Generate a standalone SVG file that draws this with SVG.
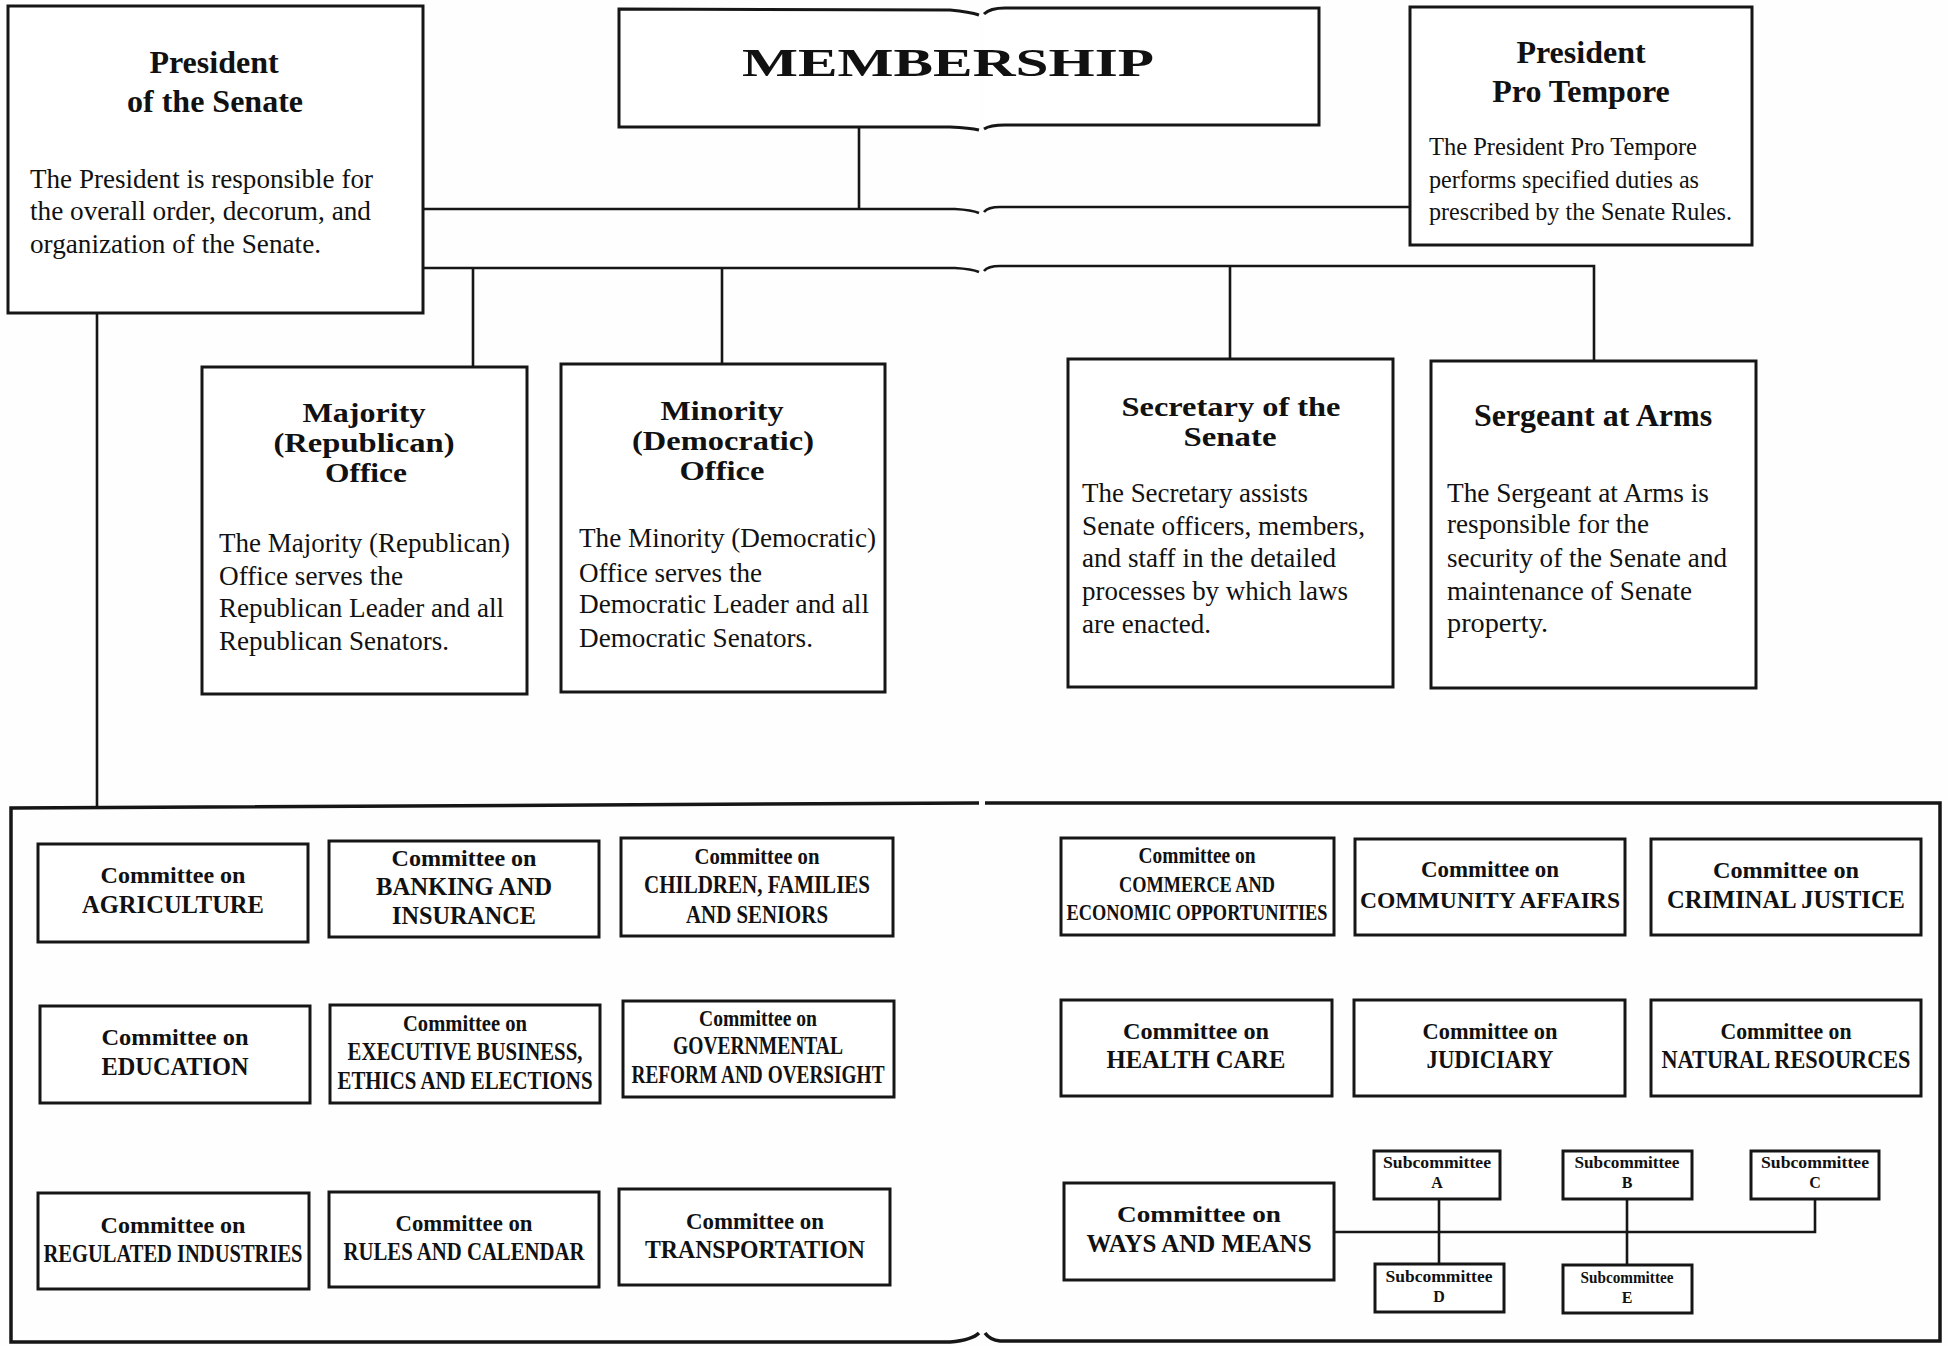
<svg xmlns="http://www.w3.org/2000/svg" width="1948" height="1346" viewBox="0 0 1948 1346">
<style>
.box{fill:#fff;stroke:#161616;stroke-width:3}
.ln{fill:none;stroke:#161616;stroke-width:2.6}
text{font-family:"Liberation Serif","Times New Roman",serif;fill:#111}
.ttl{font-size:32px;font-weight:bold;text-anchor:middle}
.ttl2{font-size:27px;font-weight:bold;text-anchor:middle}
.body{font-size:27px}
.body25{font-size:25px}
.cm{font-size:23px;font-weight:bold;text-anchor:middle}
.cap{font-size:25px;font-weight:bold;text-anchor:middle}
.cap2{font-size:23px;font-weight:bold;text-anchor:middle}
.sub{font-size:16px;font-weight:bold;text-anchor:middle}
</style>
<rect width="1948" height="1346" fill="#fefefe"/>

<g id="connectors">
  <path class="ln" d="M423,209 L955,209 Q972,210 979,213 M984,212 Q988,207 1000,207 L1410,207"/>
  <path class="ln" d="M859,127 L859,209"/>
  <path class="ln" d="M423,268 L955,268 Q972,269 979,272 M984,271 Q988,266 1000,266 L1594,266 L1594,361"/>
  <path class="ln" d="M473,268 L473,367"/>
  <path class="ln" d="M722,268 L722,364"/>
  <path class="ln" d="M1230,266 L1230,359"/>
  <path class="ln" d="M97,313 L97,808"/>
  <path class="ln" d="M1334,1232 L1815,1232 L1815,1199"/>
  <path class="ln" d="M1439,1199 L1439,1264"/>
  <path class="ln" d="M1627,1199 L1627,1265"/>
</g>

<g id="president-of-senate">
  <rect class="box" x="8" y="6" width="415" height="307"/>
  <text class="ttl" x="214" y="73">President</text>
  <text class="ttl" x="215" y="112">of the Senate</text>
  <text class="body" x="30" y="188" textLength="343" lengthAdjust="spacingAndGlyphs">The President is responsible for</text>
  <text class="body" x="30" y="220" textLength="341" lengthAdjust="spacingAndGlyphs">the overall order, decorum, and</text>
  <text class="body" x="30" y="253" textLength="291" lengthAdjust="spacingAndGlyphs">organization of the Senate.</text>
</g>

<g id="membership">
  <path class="box" d="M979,15 Q970,12 950,10 L619,9 L619,127 L950,127 Q970,128 979,130"/>
  <path class="box" d="M984,129 Q990,125 1005,125 L1319,125 L1319,8 L1005,8 Q990,8 984,14"/>
  <text x="742" y="76" font-size="39" font-weight="bold" textLength="412" lengthAdjust="spacingAndGlyphs">MEMBERSHIP</text>
</g>

<g id="president-pro-tempore">
  <rect class="box" x="1410" y="7" width="342" height="238"/>
  <text class="ttl" x="1581" y="63">President</text>
  <text class="ttl" x="1581" y="102">Pro Tempore</text>
  <text class="body25" x="1429" y="155" textLength="268" lengthAdjust="spacingAndGlyphs">The President Pro Tempore</text>
  <text class="body25" x="1429" y="188" textLength="270" lengthAdjust="spacingAndGlyphs">performs specified duties as</text>
  <text class="body25" x="1429" y="220" textLength="303" lengthAdjust="spacingAndGlyphs">prescribed by the Senate Rules.</text>
</g>

<g id="majority-office">
  <rect class="box" x="202" y="367" width="325" height="327"/>
  <text class="ttl2" x="364" y="422" textLength="123" lengthAdjust="spacingAndGlyphs">Majority</text>
  <text class="ttl2" x="364" y="452" textLength="181" lengthAdjust="spacingAndGlyphs">(Republican)</text>
  <text class="ttl2" x="366" y="482" textLength="82" lengthAdjust="spacingAndGlyphs">Office</text>
  <text class="body" x="219" y="552" textLength="291" lengthAdjust="spacingAndGlyphs">The Majority (Republican)</text>
  <text class="body" x="219" y="585" textLength="184" lengthAdjust="spacingAndGlyphs">Office serves the</text>
  <text class="body" x="219" y="617" textLength="285" lengthAdjust="spacingAndGlyphs">Republican Leader and all</text>
  <text class="body" x="219" y="650" textLength="230" lengthAdjust="spacingAndGlyphs">Republican Senators.</text>
</g>

<g id="minority-office">
  <rect class="box" x="561" y="364" width="324" height="328"/>
  <text class="ttl2" x="722" y="420" textLength="123" lengthAdjust="spacingAndGlyphs">Minority</text>
  <text class="ttl2" x="723" y="450" textLength="182" lengthAdjust="spacingAndGlyphs">(Democratic)</text>
  <text class="ttl2" x="722" y="480" textLength="85" lengthAdjust="spacingAndGlyphs">Office</text>
  <text class="body" x="579" y="547" textLength="297" lengthAdjust="spacingAndGlyphs">The Minority (Democratic)</text>
  <text class="body" x="579" y="582" textLength="183" lengthAdjust="spacingAndGlyphs">Office serves the</text>
  <text class="body" x="579" y="613" textLength="290" lengthAdjust="spacingAndGlyphs">Democratic Leader and all</text>
  <text class="body" x="579" y="647" textLength="234" lengthAdjust="spacingAndGlyphs">Democratic Senators.</text>
</g>

<g id="secretary-of-senate">
  <rect class="box" x="1068" y="359" width="325" height="328"/>
  <text class="ttl2" x="1231" y="416" textLength="219" lengthAdjust="spacingAndGlyphs">Secretary of the</text>
  <text class="ttl2" x="1230" y="446" textLength="93" lengthAdjust="spacingAndGlyphs">Senate</text>
  <text class="body" x="1082" y="502" textLength="226" lengthAdjust="spacingAndGlyphs">The Secretary assists</text>
  <text class="body" x="1082" y="535" textLength="283" lengthAdjust="spacingAndGlyphs">Senate officers, members,</text>
  <text class="body" x="1082" y="567" textLength="254" lengthAdjust="spacingAndGlyphs">and staff in the detailed</text>
  <text class="body" x="1082" y="600" textLength="266" lengthAdjust="spacingAndGlyphs">processes by which laws</text>
  <text class="body" x="1082" y="633" textLength="129" lengthAdjust="spacingAndGlyphs">are enacted.</text>
</g>

<g id="sergeant-at-arms">
  <rect class="box" x="1431" y="361" width="325" height="327"/>
  <text class="ttl" x="1593" y="426">Sergeant at Arms</text>
  <text class="body" x="1447" y="502" textLength="262" lengthAdjust="spacingAndGlyphs">The Sergeant at Arms is</text>
  <text class="body" x="1447" y="533" textLength="202" lengthAdjust="spacingAndGlyphs">responsible for the</text>
  <text class="body" x="1447" y="567" textLength="280" lengthAdjust="spacingAndGlyphs">security of the Senate and</text>
  <text class="body" x="1447" y="600" textLength="245" lengthAdjust="spacingAndGlyphs">maintenance of Senate</text>
  <text class="body" x="1447" y="632" textLength="101" lengthAdjust="spacingAndGlyphs">property.</text>
</g>

<g id="committees-frame">
  <path class="box" style="fill:none;stroke-width:3.5" d="M979,1333 Q972,1340 950,1342 L11,1342 L11,808 L979,803 M985,803 L1940,803 L1940,1341 L1000,1341 Q990,1340 985,1333"/>
</g>

<g id="c-agriculture">
  <rect class="box" x="38" y="844" width="270" height="98"/>
  <text class="cm" x="173" y="883" textLength="145" lengthAdjust="spacingAndGlyphs">Committee on</text>
  <text class="cap" x="173" y="913" textLength="182" lengthAdjust="spacingAndGlyphs">AGRICULTURE</text>
</g>
<g id="c-banking">
  <rect class="box" x="329" y="841" width="270" height="96"/>
  <text class="cm" x="464" y="866" textLength="145" lengthAdjust="spacingAndGlyphs">Committee on</text>
  <text class="cap" x="464" y="895" textLength="176" lengthAdjust="spacingAndGlyphs">BANKING AND</text>
  <text class="cap" x="464" y="924" textLength="144" lengthAdjust="spacingAndGlyphs">INSURANCE</text>
</g>
<g id="c-children">
  <rect class="box" x="621" y="838" width="272" height="98"/>
  <text class="cm" x="757" y="864" textLength="125" lengthAdjust="spacingAndGlyphs">Committee on</text>
  <text class="cap" x="757" y="893" textLength="226" lengthAdjust="spacingAndGlyphs">CHILDREN, FAMILIES</text>
  <text class="cap" x="757" y="923" textLength="142" lengthAdjust="spacingAndGlyphs">AND SENIORS</text>
</g>
<g id="c-education">
  <rect class="box" x="40" y="1006" width="270" height="97"/>
  <text class="cm" x="175" y="1045" textLength="147" lengthAdjust="spacingAndGlyphs">Committee on</text>
  <text class="cap" x="175" y="1075" textLength="147" lengthAdjust="spacingAndGlyphs">EDUCATION</text>
</g>
<g id="c-executive">
  <rect class="box" x="330" y="1005" width="270" height="98"/>
  <text class="cm" x="465" y="1031" textLength="124" lengthAdjust="spacingAndGlyphs">Committee on</text>
  <text class="cap" x="465" y="1060" textLength="235" lengthAdjust="spacingAndGlyphs">EXECUTIVE BUSINESS,</text>
  <text class="cap" x="465" y="1089" textLength="255" lengthAdjust="spacingAndGlyphs">ETHICS AND ELECTIONS</text>
</g>
<g id="c-governmental">
  <rect class="box" x="623" y="1001" width="271" height="96"/>
  <text class="cm" x="758" y="1026" textLength="118" lengthAdjust="spacingAndGlyphs">Committee on</text>
  <text class="cap" x="758" y="1054" textLength="170" lengthAdjust="spacingAndGlyphs">GOVERNMENTAL</text>
  <text class="cap" x="758" y="1083" textLength="253" lengthAdjust="spacingAndGlyphs">REFORM AND OVERSIGHT</text>
</g>
<g id="c-regulated">
  <rect class="box" x="38" y="1193" width="271" height="96"/>
  <text class="cm" x="173" y="1233" textLength="145" lengthAdjust="spacingAndGlyphs">Committee on</text>
  <text class="cap" x="173" y="1262" textLength="259" lengthAdjust="spacingAndGlyphs">REGULATED INDUSTRIES</text>
</g>
<g id="c-rules">
  <rect class="box" x="329" y="1192" width="270" height="95"/>
  <text class="cm" x="464" y="1231" textLength="137" lengthAdjust="spacingAndGlyphs">Committee on</text>
  <text class="cap" x="464" y="1260" textLength="241" lengthAdjust="spacingAndGlyphs">RULES AND CALENDAR</text>
</g>
<g id="c-transportation">
  <rect class="box" x="619" y="1189" width="271" height="96"/>
  <text class="cm" x="755" y="1229" textLength="138" lengthAdjust="spacingAndGlyphs">Committee on</text>
  <text class="cap" x="755" y="1258" textLength="220" lengthAdjust="spacingAndGlyphs">TRANSPORTATION</text>
</g>

<g id="c-commerce">
  <rect class="box" x="1061" y="838" width="273" height="97"/>
  <text class="cm" x="1197" y="863" textLength="117" lengthAdjust="spacingAndGlyphs">Committee on</text>
  <text class="cap2" x="1197" y="892" textLength="156" lengthAdjust="spacingAndGlyphs">COMMERCE AND</text>
  <text class="cap2" x="1197" y="920" textLength="261" lengthAdjust="spacingAndGlyphs">ECONOMIC OPPORTUNITIES</text>
</g>
<g id="c-community">
  <rect class="box" x="1355" y="839" width="270" height="96"/>
  <text class="cm" x="1490" y="877" textLength="138" lengthAdjust="spacingAndGlyphs">Committee on</text>
  <text class="cap2" x="1490" y="908" textLength="260" lengthAdjust="spacingAndGlyphs">COMMUNITY AFFAIRS</text>
</g>
<g id="c-criminal">
  <rect class="box" x="1651" y="839" width="270" height="96"/>
  <text class="cm" x="1786" y="878" textLength="146" lengthAdjust="spacingAndGlyphs">Committee on</text>
  <text class="cap" x="1786" y="908" textLength="238" lengthAdjust="spacingAndGlyphs">CRIMINAL JUSTICE</text>
</g>
<g id="c-health">
  <rect class="box" x="1061" y="1000" width="271" height="96"/>
  <text class="cm" x="1196" y="1039" textLength="146" lengthAdjust="spacingAndGlyphs">Committee on</text>
  <text class="cap" x="1196" y="1068" textLength="179" lengthAdjust="spacingAndGlyphs">HEALTH CARE</text>
</g>
<g id="c-judiciary">
  <rect class="box" x="1354" y="1000" width="271" height="96"/>
  <text class="cm" x="1490" y="1039" textLength="135" lengthAdjust="spacingAndGlyphs">Committee on</text>
  <text class="cap" x="1490" y="1068" textLength="127" lengthAdjust="spacingAndGlyphs">JUDICIARY</text>
</g>
<g id="c-natural">
  <rect class="box" x="1651" y="1000" width="270" height="96"/>
  <text class="cm" x="1786" y="1039" textLength="131" lengthAdjust="spacingAndGlyphs">Committee on</text>
  <text class="cap" x="1786" y="1068" textLength="249" lengthAdjust="spacingAndGlyphs">NATURAL RESOURCES</text>
</g>

<g id="c-ways-means">
  <rect class="box" x="1064" y="1183" width="270" height="97"/>
  <text class="cm" x="1199" y="1222" font-size="25" textLength="164" lengthAdjust="spacingAndGlyphs">Committee on</text>
  <text class="cap" x="1199" y="1252" textLength="225" lengthAdjust="spacingAndGlyphs">WAYS AND MEANS</text>
</g>
<g id="sub-a">
  <rect class="box" x="1374" y="1151" width="126" height="48"/>
  <text class="sub" x="1437" y="1168" textLength="108" lengthAdjust="spacingAndGlyphs">Subcommittee</text>
  <text class="sub" x="1437" y="1188">A</text>
</g>
<g id="sub-b">
  <rect class="box" x="1563" y="1151" width="129" height="48"/>
  <text class="sub" x="1627" y="1168" textLength="105" lengthAdjust="spacingAndGlyphs">Subcommittee</text>
  <text class="sub" x="1627" y="1188">B</text>
</g>
<g id="sub-c">
  <rect class="box" x="1751" y="1151" width="128" height="48"/>
  <text class="sub" x="1815" y="1168" textLength="108" lengthAdjust="spacingAndGlyphs">Subcommittee</text>
  <text class="sub" x="1815" y="1188">C</text>
</g>
<g id="sub-d">
  <rect class="box" x="1375" y="1264" width="129" height="48"/>
  <text class="sub" x="1439" y="1282" textLength="107" lengthAdjust="spacingAndGlyphs">Subcommittee</text>
  <text class="sub" x="1439" y="1302">D</text>
</g>
<g id="sub-e">
  <rect class="box" x="1563" y="1265" width="129" height="48"/>
  <text class="sub" x="1627" y="1283" textLength="93" lengthAdjust="spacingAndGlyphs">Subcommittee</text>
  <text class="sub" x="1627" y="1303">E</text>
</g>
</svg>
